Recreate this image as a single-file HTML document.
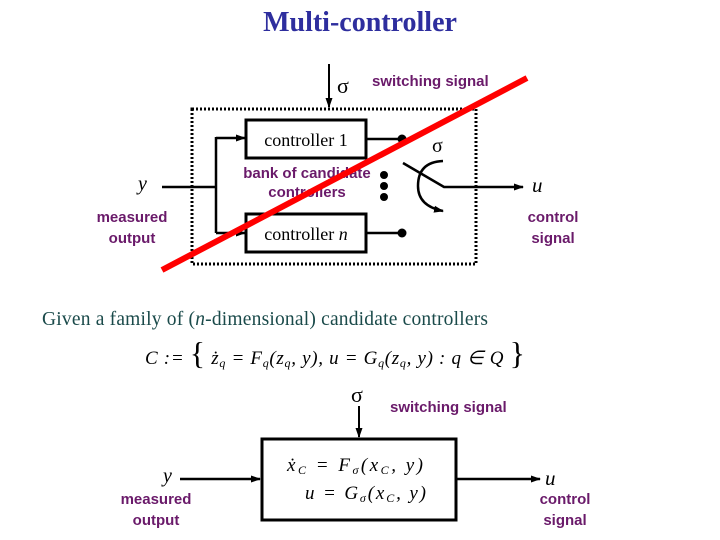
<!DOCTYPE html>
<html><head><style>
html,body{margin:0;padding:0;background:#fff;}
svg{display:block;}
.p{fill:#6a1a6a;font-family:"Liberation Sans",sans-serif;font-weight:bold;font-size:15px;}
.s{font-family:"Liberation Serif",serif;}
</style></head><body>
<svg width="720" height="540" viewBox="0 0 720 540" xmlns="http://www.w3.org/2000/svg">
<defs>
<marker id="a" markerWidth="10" markerHeight="10" refX="9" refY="5" orient="auto" markerUnits="userSpaceOnUse"><path d="M0,1.5 L10,5 L0,8.5 Z" fill="#000"/></marker>
</defs>
<text x="360" y="31" text-anchor="middle" class="s" font-weight="bold" font-size="28" fill="#2e2e9e">Multi-controller</text>

<!-- top diagram -->
<rect x="192" y="109" width="284" height="155" fill="none" stroke="#000" stroke-width="3" stroke-dasharray="2,2"/>
<line x1="329" y1="64" x2="329" y2="107" stroke="#000" stroke-width="2" marker-end="url(#a)"/>
<text x="337" y="93" class="s" font-size="22">σ</text>
<text x="372" y="86" class="p" font-size="14">switching signal</text>

<rect x="246" y="120" width="120" height="38" fill="#fff" stroke="#000" stroke-width="3"/>
<text x="306" y="146" text-anchor="middle" class="s" font-size="18">controller 1</text>
<rect x="246" y="214" width="120" height="38" fill="#fff" stroke="#000" stroke-width="3"/>
<text x="306" y="240" text-anchor="middle" class="s" font-size="18">controller <tspan font-style="italic">n</tspan></text>

<line x1="162" y1="187" x2="216" y2="187" stroke="#000" stroke-width="2.5"/>
<line x1="216" y1="137" x2="216" y2="233" stroke="#000" stroke-width="2.5"/>
<line x1="216" y1="138" x2="245" y2="138" stroke="#000" stroke-width="2.5" marker-end="url(#a)"/>
<line x1="216" y1="233" x2="245" y2="233" stroke="#000" stroke-width="2.5" marker-end="url(#a)"/>
<text x="138" y="190" class="s" font-style="italic" font-size="20">y</text>
<text x="132" y="222" text-anchor="middle" class="p" font-size="14">measured</text>
<text x="132" y="243" text-anchor="middle" class="p" font-size="14">output</text>

<line x1="366" y1="139" x2="402" y2="139" stroke="#000" stroke-width="2.5"/>
<circle cx="402" cy="139" r="4.5"/>
<line x1="366" y1="233" x2="402" y2="233" stroke="#000" stroke-width="2.5"/>
<circle cx="402" cy="233" r="4.5"/>
<circle cx="384" cy="175" r="4"/><circle cx="384" cy="186" r="4"/><circle cx="384" cy="197" r="4"/>
<text x="307" y="178" text-anchor="middle" class="p" font-size="11">bank of candidate</text>
<text x="307" y="197" text-anchor="middle" class="p" font-size="11">controllers</text>

<polyline points="403,163 444,187 523,187" fill="none" stroke="#000" stroke-width="2.5" marker-end="url(#a)"/>
<path d="M443,161 Q418,162 418,186 Q418,206 443,211" fill="none" stroke="#000" stroke-width="2.5" marker-end="url(#a)"/>
<text x="432" y="152" class="s" font-size="20">σ</text>
<text x="532" y="192" class="s" font-style="italic" font-size="21">u</text>
<text x="553" y="222" text-anchor="middle" class="p" font-size="14">control</text>
<text x="553" y="243" text-anchor="middle" class="p" font-size="14">signal</text>

<line x1="162" y1="270" x2="527" y2="78" stroke="#f00" stroke-width="6"/>

<!-- text -->
<text x="42" y="325" class="s" font-size="19.5" fill="#1a4a4a" textLength="446">Given a family of (<tspan font-style="italic">n</tspan>-dimensional) candidate controllers</text>
<text x="145" y="364" class="s" font-size="19" font-style="italic" textLength="380" lengthAdjust="spacing">C := <tspan font-style="normal" font-size="32">{</tspan> ż<tspan font-size="12" dy="3">q</tspan><tspan dy="-3"> = F</tspan><tspan font-size="12" dy="3">q</tspan><tspan dy="-3">(z</tspan><tspan font-size="12" dy="3">q</tspan><tspan dy="-3">, y),  u = G</tspan><tspan font-size="12" dy="3">q</tspan><tspan dy="-3">(z</tspan><tspan font-size="12" dy="3">q</tspan><tspan dy="-3">, y) : q ∈ Q </tspan><tspan font-style="normal" font-size="32">}</tspan></text>

<!-- bottom diagram -->
<text x="351" y="402" class="s" font-size="22">σ</text>
<text x="390" y="412" class="p" font-size="14">switching signal</text>
<line x1="359" y1="406" x2="359" y2="437" stroke="#000" stroke-width="2" marker-end="url(#a)"/>
<rect x="262" y="439" width="194" height="81" fill="#fff" stroke="#000" stroke-width="3"/>
<text x="287" y="471" class="s" font-style="italic" font-size="19" textLength="136" lengthAdjust="spacing">ẋ<tspan font-size="12" dy="3">C</tspan><tspan dy="-3"> = F</tspan><tspan font-size="12" dy="3">σ</tspan><tspan dy="-3">(x</tspan><tspan font-size="12" dy="3">C</tspan><tspan dy="-3">, y)</tspan></text>
<text x="305" y="499" class="s" font-style="italic" font-size="19" textLength="121" lengthAdjust="spacing">u = G<tspan font-size="12" dy="3">σ</tspan><tspan dy="-3">(x</tspan><tspan font-size="12" dy="3">C</tspan><tspan dy="-3">, y)</tspan></text>
<line x1="180" y1="479" x2="260" y2="479" stroke="#000" stroke-width="2.5" marker-end="url(#a)"/>
<line x1="456" y1="479" x2="540" y2="479" stroke="#000" stroke-width="2.5" marker-end="url(#a)"/>
<text x="163" y="482" class="s" font-style="italic" font-size="20">y</text>
<text x="156" y="504" text-anchor="middle" class="p" font-size="14">measured</text>
<text x="156" y="525" text-anchor="middle" class="p" font-size="14">output</text>
<text x="545" y="485" class="s" font-style="italic" font-size="21">u</text>
<text x="565" y="504" text-anchor="middle" class="p" font-size="14">control</text>
<text x="565" y="525" text-anchor="middle" class="p" font-size="14">signal</text>
</svg>
</body></html>
